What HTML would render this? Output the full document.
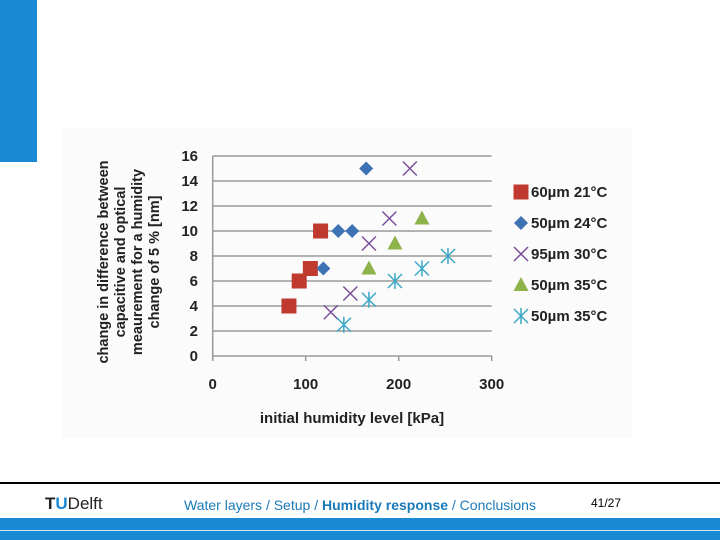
<!DOCTYPE html>
<html><head><meta charset="utf-8"><style>
body{margin:0;width:720px;height:540px;background:#fff;position:relative;overflow:hidden;font-family:"Liberation Sans",Arial,sans-serif}
.abs{position:absolute}
</style></head><body>
<div class="abs" style="left:0;top:0;width:37px;height:162px;background:#1a8ad4"></div>
<div class="abs" style="left:62px;top:128px;width:570px;height:310px;background:#fbfbfb"></div>
<svg class="abs" style="left:0;top:0" width="720" height="540">
<g id="grid"></g>
<g id="axes"></g>
<g id="marks"></g>
<g id="legend"></g>
<text x="352" y="423" font-size="15" font-weight="bold" fill="#222" text-anchor="middle">initial humidity level [kPa]</text>
<g transform="translate(108,262) rotate(-90)" font-size="14.5" font-weight="bold" fill="#222" text-anchor="middle">
<text x="0" y="0">change in difference between</text>
<text x="0" y="17">capacitive and optical</text>
<text x="0" y="34">meaurement for a humidity</text>
<text x="0" y="51">change of 5 % [nm]</text>
</g>
</svg>
<div class="abs" style="left:0;top:482px;width:720px;height:2px;background:#000"></div>
<div class="abs" style="left:45px;top:494px;font-size:17px;color:#222"><span style="font-weight:bold">T</span><span style="color:#1a8ad4;font-weight:bold">U</span>Delft</div>
<div class="abs" style="left:184px;top:497px;font-size:14px;color:#1a7ab8">Water layers / Setup / <b>Humidity response</b> / Conclusions</div>
<div class="abs" style="left:591px;top:496px;font-size:12px;color:#000">41/27</div>
<div class="abs" style="left:0;top:518px;width:720px;height:22px;background:#1a8ad4"></div>
<div class="abs" style="left:0;top:530px;width:720px;height:1px;background:#cfe6f6"></div>
<script>
const xTicks=[0,100,200,300];
const yTicks=[0,2,4,6,8,10,12,14,16];
const seriesNames=["60µm 21°C","50µm 24°C","95µm 30°C","50µm 35°C","50µm 35°C"];
const s1x=[82,93,105,116], s1y=[4,6,7,10];
const s2x=[119,135,150,165], s2y=[7,10,10,15];
const s3x=[127,148,168,190,212], s3y=[3.5,5,9,11,15];
const s4x=[168,196,225], s4y=[7,9,11];
const s5x=[141,168,196,225,253], s5y=[2.5,4.5,6,7,8];
const X=v=>212.7+v*0.93, Y=v=>356-v*12.5;
const NS="http://www.w3.org/2000/svg";
function mk(p,t,a){const e=document.createElementNS(NS,t);for(const k in a)e.setAttribute(k,a[k]);p.appendChild(e);return e;}
const grid=document.getElementById('grid'),axes=document.getElementById('axes'),marks=document.getElementById('marks'),leg=document.getElementById('legend');
yTicks.forEach(v=>{const l=mk(grid,'line',{x1:X(0),x2:X(300),y1:Y(v),y2:Y(v),stroke:'#999','stroke-width':1.5});


const t=mk(axes,'text',{x:198,y:Y(v)+5,'font-size':15,'font-weight':'bold',fill:'#222','text-anchor':'end'});t.textContent=v;

});
mk(axes,'line',{x1:X(0),x2:X(0),y1:Y(16),y2:Y(0)+4,stroke:'#999','stroke-width':1.5});
xTicks.forEach(v=>{mk(axes,'line',{x1:X(v),x2:X(v),y1:Y(0),y2:Y(0)+5,stroke:'#999','stroke-width':1.5});
const t=mk(axes,'text',{x:X(v),y:389,'font-size':15,'font-weight':'bold',fill:'#222','text-anchor':'middle'});t.textContent=v;

});
function marker(g,type,cx,cy){
 if(type==0)return mk(g,'rect',{x:cx-7.5,y:cy-7.5,width:15,height:15,fill:'#c0392f'});
 if(type==1)return mk(g,'polygon',{points:`${cx},${cy-7} ${cx+7},${cy} ${cx},${cy+7} ${cx-7},${cy}`,fill:'#3d72b5'});
 if(type==2)return mk(g,'path',{d:`M${cx-7} ${cy-7}L${cx+7} ${cy+7}M${cx+7} ${cy-7}L${cx-7} ${cy+7}`,stroke:'#7b4f9a','stroke-width':1.5,fill:'none'});
 if(type==3)return mk(g,'polygon',{points:`${cx},${cy-8} ${cx+7.5},${cy+6} ${cx-7.5},${cy+6}`,fill:'#8db34a'});
 return mk(g,'path',{d:`M${cx-7} ${cy-7}L${cx+7} ${cy+7}M${cx+7} ${cy-7}L${cx-7} ${cy+7}M${cx} ${cy-8}L${cx} ${cy+8}`,stroke:'#3ba8c8','stroke-width':1.5,fill:'none'});
}
[[s1x,s1y],[s2x,s2y],[s3x,s3y],[s4x,s4y],[s5x,s5y]].forEach((s,i)=>{
 s[0].forEach((xv,j)=>{const m=marker(marks,i,X(xv),Y(s[1][j]));
 
 });
 const ly=192+i*31;
 const lm=marker(leg,i,521,ly);
 
 
 const t=mk(leg,'text',{x:531,y:ly+5,'font-size':15,'font-weight':'bold',fill:'#222'});t.textContent=seriesNames[i];
 
 
});
</script>
</body></html>
